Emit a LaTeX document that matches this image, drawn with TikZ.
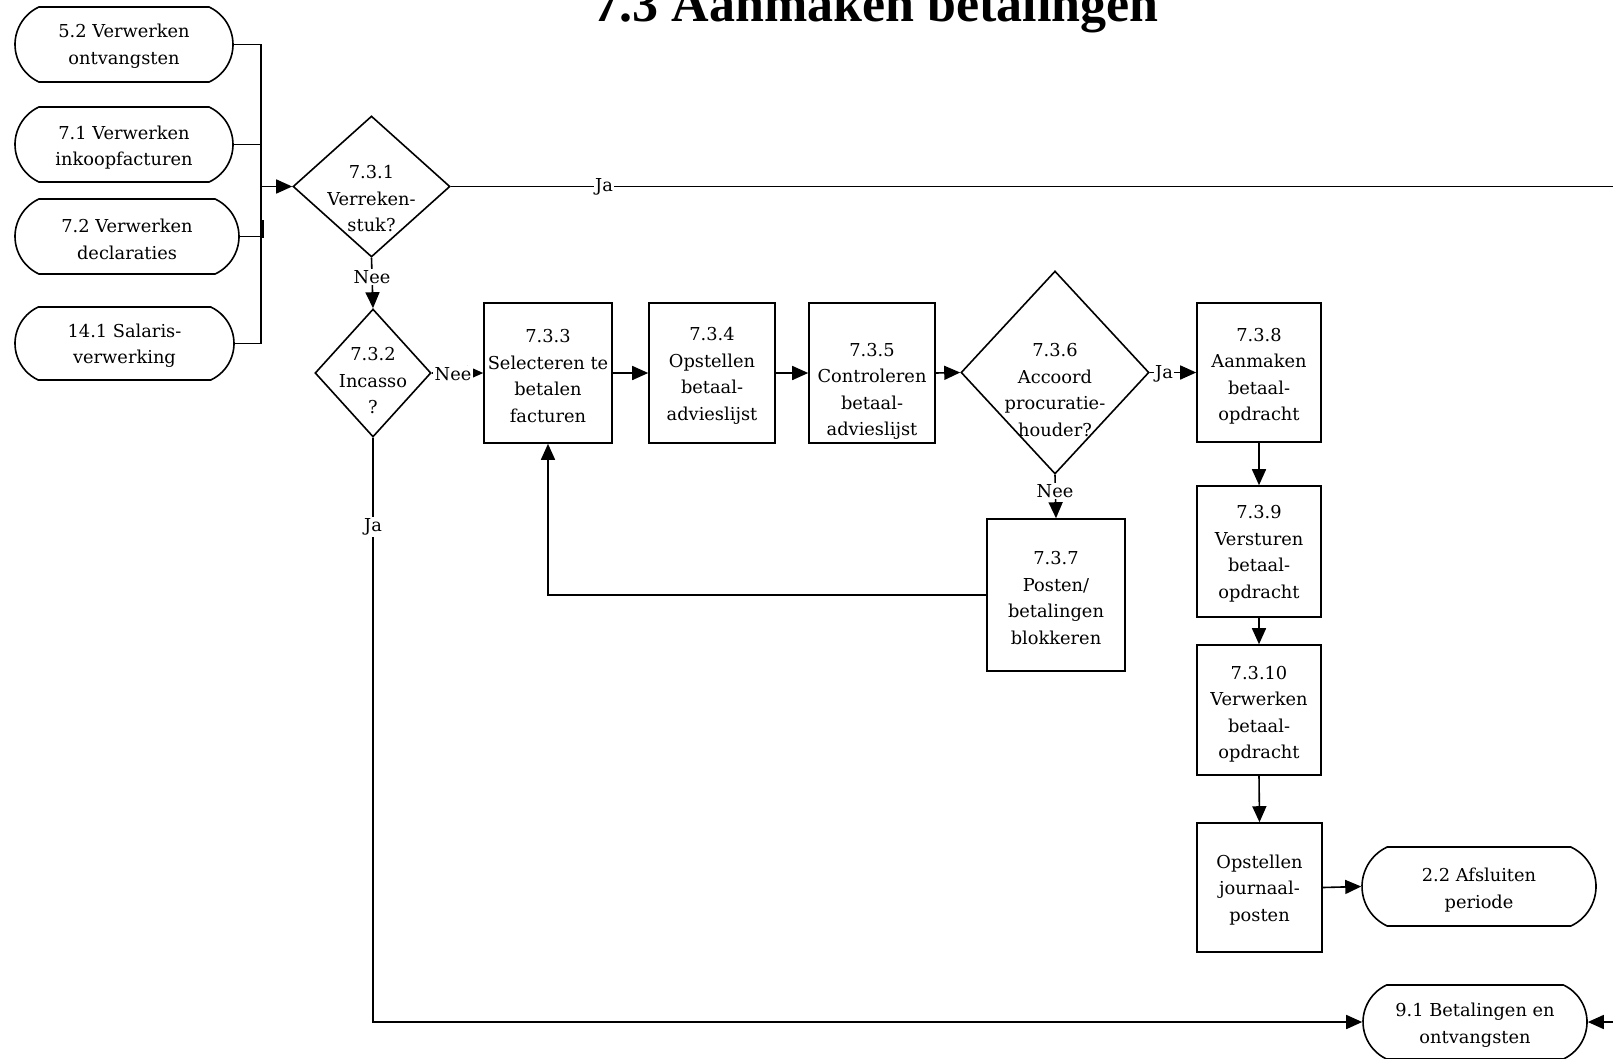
\documentclass[tikz,border=0pt]{standalone}
\usepackage{fontspec}
\setmainfont{DejaVu Serif}
\newfontfamily\titlefont{Liberation Serif}
\usetikzlibrary{shapes.geometric,shapes.misc,arrows.meta}

\begin{document}
\begin{tikzpicture}[x=1pt,y=-1pt,
  every node/.style={font=\fontsize{17.8}{26.5}\selectfont},
  line/.style={line width=1.6pt},
  arr/.style={line width=1.6pt,-{Triangle[length=16pt,width=14pt]}},
  term/.style={draw,line width=1.6pt,rounded rectangle,rounded rectangle arc length=130,inner sep=0pt},
  stepbox/.style={draw,line width=1.6pt,rectangle,inner sep=0pt},
  decision/.style={draw,line width=1.6pt,diamond,inner sep=0pt},
  txt/.style={align=center,inner sep=0pt},
  lbl/.style={fill=white,inner sep=1.5pt},
]
\useasboundingbox (0,0) rectangle (1613,1058);

% title
\node[font=\titlefont\bfseries\fontsize{52}{52}\selectfont,anchor=base] (title) at (876,21) {7.3 Aanmaken betalingen};

% incoming processes
\node[term,minimum width=218pt,minimum height=75pt] (t52) at (124,44.5) {};
\node[term,minimum width=218pt,minimum height=75pt] (t71) at (124,144.5) {};
\node[term,minimum width=224pt,minimum height=75pt] (t72) at (127,236.5) {};
\node[term,minimum width=219pt,minimum height=73pt] (t141) at (124.5,343.5) {};
\node[txt] (t52t) at (124,46) {5.2 Verwerken\\ontvangsten};
\node[txt] (t71t) at (124,147.5) {7.1 Verwerken\\inkoopfacturen};
\node[txt] (t72t) at (127,239.5) {7.2 Verwerken\\declaraties};
\node[txt] (t141t) at (124.5,345.5) {14.1 Salaris-\\verwerking};

% decisions
\node[decision,minimum width=157pt,minimum height=141pt] (d731) at (371.5,186.5) {};
\node[decision,minimum width=116pt,minimum height=128pt] (d732) at (373,373) {};
\node[decision,minimum width=188pt,minimum height=203pt] (d736) at (1055,372.5) {};
\node[txt] (d731t) at (371.5,199) {7.3.1\\Verreken-\\stuk?};
\node[txt] (d732t) at (373,381) {7.3.2\\Incasso\\?};
\node[txt] (d736t) at (1055,390) {7.3.6\\Accoord\\procuratie-\\houder?};

% process steps
\node[stepbox,minimum width=128pt,minimum height=140pt] (b733) at (548,373) {};
\node[stepbox,minimum width=126pt,minimum height=140pt] (b734) at (712,373) {};
\node[stepbox,minimum width=126pt,minimum height=140pt] (b735) at (872,373) {};
\node[stepbox,minimum width=124pt,minimum height=139pt] (b738) at (1259,372.5) {};
\node[stepbox,minimum width=138pt,minimum height=152pt] (b737) at (1056,595) {};
\node[stepbox,minimum width=124pt,minimum height=131pt] (b739) at (1259,551.5) {};
\node[stepbox,minimum width=124pt,minimum height=130pt] (b7310) at (1259,710) {};
\node[stepbox,minimum width=125pt,minimum height=129pt] (bjp) at (1259.5,887.5) {};
\node[txt] (b733t) at (548,376) {7.3.3\\Selecteren te\\betalen\\facturen};
\node[txt] (b734t) at (712,376) {7.3.4\\Opstellen\\betaal-\\advieslijst};
\node[txt] (b735t) at (872,391.5) {7.3.5\\Controleren\\betaal-\\advieslijst};
\node[txt] (b738t) at (1259,376) {7.3.8\\Aanmaken\\betaal-\\opdracht};
\node[txt] (b737t) at (1056,598) {7.3.7\\Posten/\\betalingen\\blokkeren};
\node[txt] (b739t) at (1259,553.5) {7.3.9\\Versturen\\betaal-\\opdracht};
\node[txt] (b7310t) at (1259,714) {7.3.10\\Verwerken\\betaal-\\opdracht};
\node[txt] (bjpt) at (1259.5,890) {Opstellen\\journaal-\\posten};

% outgoing processes
\node[term,minimum width=234pt,minimum height=79pt] (t22) at (1479,886.5) {};
\node[term,minimum width=224pt,minimum height=74pt] (t91) at (1475,1022) {};
\node[txt] (t22t) at (1479,890) {2.2 Afsluiten\\periode};
\node[txt] (t91t) at (1475,1025) {9.1 Betalingen en\\ontvangsten};

% collecting bus on the left
\coordinate (bus) at (261,0);
\coordinate (offr) at (1650,0);
\draw[line] (t52.east) -- (t52.east -| bus) -- (t141.east -| bus) -- (t141.east);
\draw[line] (t71.east) -- (t71.east -| bus);
\draw[line] (t72.east) -- (t72.east -| bus);
\draw[line] (263,220) -- (263,238);
\draw[arr] (d731.west -| bus) -- (d731.west);

% main flow
\draw[line] (d731.east) -- (d731.east -| offr) -- (t91.east -| offr);
\draw[arr] (t91.east -| offr) -- (t91.east);
\draw[arr] (d731.south) -- (d732.north);
\draw[arr] (d732.east) -- (b733.west);
\draw[arr] (d732.south) |- (t91.west);
\draw[arr] (b733.east) -- (b734.west);
\draw[arr] (b734.east) -- (b735.west);
\draw[arr] (b735.east) -- (d736.west);
\draw[arr] (d736.east) -- (b738.west);
\draw[arr] (d736.south) -- (b737.north);
\draw[arr] (b737.west) -| (b733.south);
\draw[arr] (b738.south) -- (b739.north);
\draw[arr] (b739.south) -- (b7310.north);
\draw[arr] (b7310.south) -- (bjp.north);
\draw[arr] (bjp.east) -- (t22.west);

% branch labels
\node[lbl] (l1) at (604,186.5) {Ja};
\node[lbl] (l2) at (372,277) {Nee};
\node[lbl] (l3) at (453,374) {Nee};
\node[lbl] (l4) at (373,527) {Ja};
\node[lbl] (l5) at (1164,374) {Ja};
\node[lbl] (l6) at (1055,491) {Nee};
\end{tikzpicture}
\end{document}
